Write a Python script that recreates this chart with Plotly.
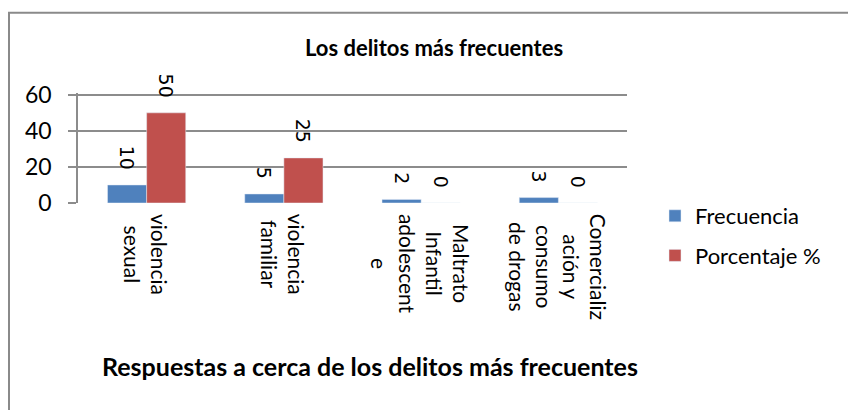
import plotly.graph_objects as go

categories = [
    "violencia<br>sexual",
    "violencia<br>familiar",
    "Maltrato<br>Infantil<br>adolescent<br>e",
    "Comercializ<br>ación y<br>consumo<br>de drogas",
]
frecuencia = [10, 5, 2, 3]
porcentaje = [50, 25, 0, 0]

FONT = "Lato, 'Liberation Sans Narrow', sans-serif"
W, H = 848, 410
L, R, T, B = 78, 627, 93.2, 203

fig = go.Figure()
fig.add_trace(go.Bar(
    x=categories, y=frecuencia, name="Frecuencia",
    marker=dict(color="#4f81bd"), legendgroup="a",
    text=frecuencia, texttemplate="%{text}\u00a0\u00a0", textposition="outside",
    textangle=90, constraintext="none", cliponaxis=False,
    textfont=dict(family="'DejaVu Sans', sans-serif", size=19, color="#000000"),
))
fig.add_trace(go.Bar(
    x=categories, y=porcentaje, name="Porcentaje %",
    marker=dict(color="#c0504d"), legendgroup="b",
    text=porcentaje, texttemplate="%{text}\u00a0\u00a0", textposition="outside",
    textangle=90, constraintext="none", cliponaxis=False,
    textfont=dict(family="'DejaVu Sans', sans-serif", size=19, color="#000000"),
))

fig.update_layout(
    width=W, height=H,
    margin=dict(l=L, r=W - R, t=T, b=H - B, autoexpand=False),
    paper_bgcolor="white", plot_bgcolor="white",
    barmode="group", bargap=0.43, bargroupgap=0,
    font=dict(family=FONT, color="#000000"),
    title=dict(text="<b>Los delitos más frecuentes</b>", x=434 / W, xanchor="center",
               y=1 - 48 / H, yanchor="middle", font=dict(size=22)),
    legend=dict(x=(655 - L) / (R - L), xanchor="left", y=8 / (B - T), yanchor="top",
                font=dict(size=22), tracegroupgap=8, bgcolor="rgba(0,0,0,0)"),
)
fig.update_yaxes(
    range=[0, 61], tickvals=[0, 20, 40, 60], showgrid=True, gridcolor="#8c8c8c", gridwidth=1.5,
    showline=True, linecolor="#8c8c8c", linewidth=1.5,
    ticks="outside", ticklen=8, tickcolor="#8c8c8c", tickwidth=1.5,
    ticklabelstandoff=12, tickfont=dict(size=23), zeroline=False,
)
fig.update_xaxes(showline=False, ticks="", showticklabels=False, showgrid=False)

# category labels, rotated and centred line by line
for cat in categories:
    fig.add_annotation(text=cat, xref="x", yref="paper", x=cat, y=-9 / (B - T),
                       xanchor="center", yanchor="top", textangle=90, align="center",
                       showarrow=False, font=dict(size=21))

# outer chart border
fig.add_shape(type="rect", xref="paper", yref="paper",
              x0=(9 - L) / (R - L), x1=(W + 10 - L) / (R - L),
              y0=(B - (H + 10)) / (B - T), y1=(B - 13) / (B - T),
              line=dict(color="#8a8a8a", width=2), layer="below")
# x axis title
fig.add_annotation(text="<b>Respuestas a cerca de los delitos más frecuentes</b>",
                   xref="paper", yref="paper", x=(370 - L) / (R - L),
                   y=(B - 366) / (B - T), xanchor="center", yanchor="middle",
                   showarrow=False, font=dict(size=25))

fig.write_html("out.html", config={"displayModeBar": False},
               post_script="document.body.style.margin='0';")
